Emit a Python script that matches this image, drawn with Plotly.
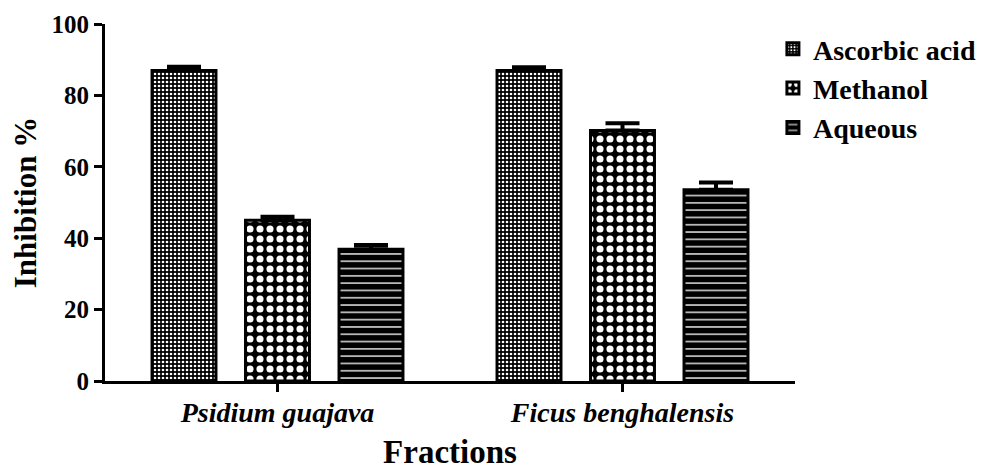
import plotly.graph_objects as go

categories = ["Psidium guajava", "Ficus benghalensis"]
series_names = ["Ascorbic acid", "Methanol", "Aqueous"]
ascorbic = [87.0, 87.0]
ascorbic_err = [1.0, 0.9]
methanol = [45.0, 70.2]
methanol_err = [1.0, 2.0]
aqueous = [36.9, 53.6]
aqueous_err = [1.2, 2.0]
y_ticks = [0, 20, 40, 60, 80, 100]

FONT = "Liberation Serif"

patterns = [
    dict(shape=".", size=4, solidity=0.35, fgcolor="white", bgcolor="black", fillmode="replace"),
    dict(shape=".", size=10, solidity=0.4, fgcolor="white", bgcolor="black", fillmode="replace"),
    dict(shape="-", size=7.3, solidity=0.22, fgcolor="#cfcfcf", bgcolor="black", fillmode="replace"),
]

fig = go.Figure()
for i, (name, vals, errs) in enumerate(zip(series_names,
                                          [ascorbic, methanol, aqueous],
                                          [ascorbic_err, methanol_err, aqueous_err])):
    fig.add_trace(go.Bar(
        name=name, x=categories, y=vals,
        marker=dict(color="black", pattern=patterns[i], line=dict(color="black", width=3)),
        error_y=dict(type="data", symmetric=False, array=errs, arrayminus=[0] * len(errs),
                     color="black", thickness=4, width=17),
        legendgroup=name,
    ))

fig.update_layout(
    width=990, height=470,
    margin=dict(l=97, r=203, t=16, b=97, autoexpand=False),
    paper_bgcolor="white", plot_bgcolor="white",
    barmode="group", bargap=0.187, bargroupgap=0.316,
    font=dict(family=FONT, color="black"),
    showlegend=True,
    legend=dict(x=0.968, y=1.0, xanchor="left", yanchor="top",
                font=dict(family=FONT, size=28, weight="bold"),
                tracegroupgap=0, bgcolor="rgba(0,0,0,0)"),
)
fig.update_xaxes(
    range=[-0.5, 1.5], showline=True, linecolor="black", linewidth=2.5,
    ticks="outside", ticklen=8, tickwidth=2.5, tickcolor="black",
    tickfont=dict(family=FONT, size=28, weight="bold", style="italic"),
    ticklabelstandoff=-3,
    showgrid=False, zeroline=False, automargin=False,
    title=dict(text="Fractions", font=dict(family=FONT, size=33, weight="bold"), standoff=13),
)
fig.update_yaxes(
    range=[0, 100], tickvals=y_ticks, showline=True, linecolor="black", linewidth=3,
    ticks="outside", ticklen=8, tickwidth=3, tickcolor="black",
    tickfont=dict(family=FONT, size=25, weight="bold"),
    showgrid=False, zeroline=False, automargin=False,
    title=dict(text="Inhibition %", font=dict(family=FONT, size=31, weight="bold"), standoff=16),
)

fig.write_html("out.html")
